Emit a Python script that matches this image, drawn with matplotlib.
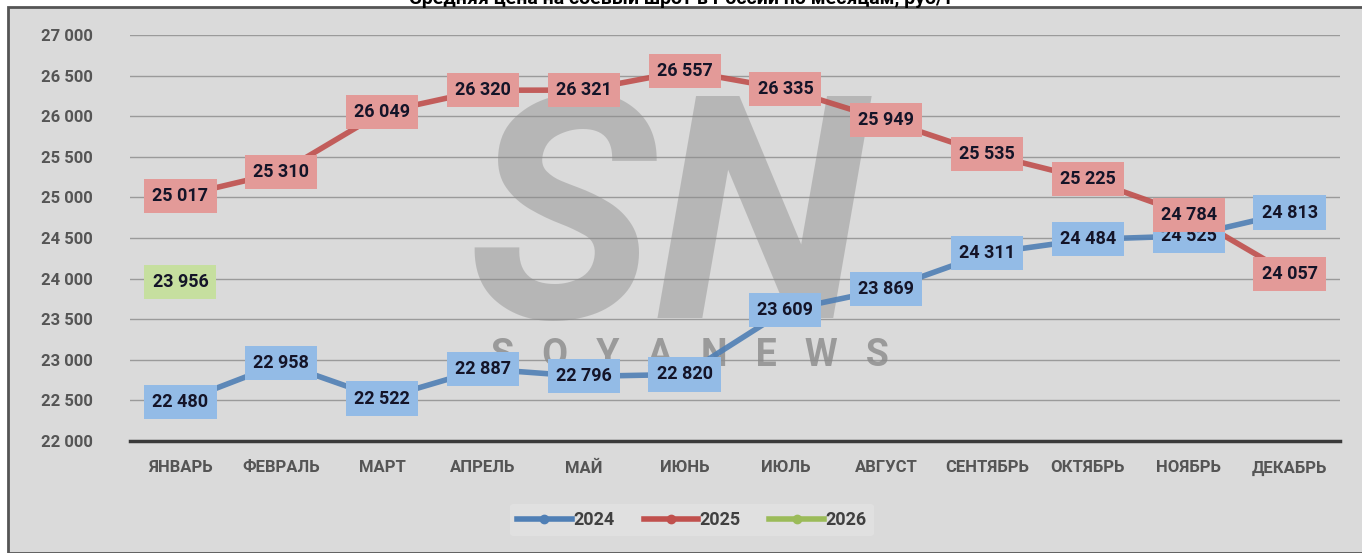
import numpy as np
import matplotlib
matplotlib.use("Agg")
import matplotlib.pyplot as plt
from matplotlib.patches import Rectangle
from matplotlib.lines import Line2D

# data
months = ['ЯНВАРЬ', 'ФЕВРАЛЬ', 'МАРТ', 'АПРЕЛЬ', 'МАЙ', 'ИЮНЬ', 'ИЮЛЬ',
          'АВГУСТ', 'СЕНТЯБРЬ', 'ОКТЯБРЬ', 'НОЯБРЬ', 'ДЕКАБРЬ']
y2024 = [22480, 22958, 22522, 22887, 22796, 22820, 23609, 23869, 24311, 24484, 24525, 24813]
y2025 = [25017, 25310, 26049, 26320, 26321, 26557, 26335, 25949, 25535, 25225, 24784, 24057]
y2026 = [23956]
yticks = [22000, 22500, 23000, 23500, 24000, 24500, 25000, 25500, 26000, 26500, 27000]
title = 'Средняя цена на соевый шрот в России по месяцам, руб/т'

W, H = 1362, 553
fig = plt.figure(figsize=(W/100, H/100), dpi=100, facecolor='white')
plt.rcParams['font.family'] = ['Roboto', 'DejaVu Sans']

# chart frame
bg = '#dadada'
fig.patches.append(Rectangle((8/W, 0), 1, 1 - 7/H, transform=fig.transFigure,
                             facecolor=bg, edgecolor='#555555', linewidth=2, zorder=-5))
fig.text(0.5, 1 - 4/H, title, ha='center', va='baseline', fontsize=14,
         fontweight='bold', color='black')

ax = fig.add_axes([130/W, 1 - 441/H, 1210/W, 406/H])
ax.set_facecolor('none')
x = np.arange(len(months))
ax.set_xlim(-0.5, len(months) - 0.5)
ax.set_ylim(22000, 27000)

for s in ['top', 'right', 'left']:
    ax.spines[s].set_visible(False)
ax.spines['bottom'].set_color('#3a3a3a')
ax.spines['bottom'].set_linewidth(2.5)
ax.set_yticks(yticks)
ax.set_yticklabels([f'{v:,}'.replace(',', ' ') for v in yticks])
ax.set_xticks(x)
ax.set_xticklabels(months)
ax.tick_params(axis='x', length=0, labelsize=12, labelcolor='#555555', pad=14)
ax.tick_params(axis='y', length=0, labelsize=12, labelcolor='#555555', pad=27)
for t in ax.get_xticklabels() + ax.get_yticklabels():
    t.set_fontweight('bold')
ax.grid(axis='y', color='#9a9a9a', linewidth=1, zorder=0)
ax.set_axisbelow(True)

# watermark
ax.text(668/W, 1 - 232/H, 'SN', transform=fig.transFigure, ha='center', va='center',
        fontsize=225, fontstyle='italic', fontweight='bold', color='#8c8c8c',
        alpha=0.45, zorder=1)
ax.text(690/W, 1 - 355/H, 'S   O   Y   A   N   E   W   S', transform=fig.transFigure,
        ha='center', va='center', fontsize=27, fontweight='bold', color='#8a8a8a',
        alpha=0.8, zorder=1)

series = [
    (y2024, '2024', '#4f7fb5', '#93bbe6'),
    (y2025, '2025', '#c0504d', '#e39a98'),
    (y2026, '2026', '#9bbb59', '#c6df9f'),
]
for vals, name, lc, fc in series:
    xs = x[:len(vals)]
    ax.plot(xs, vals, color=lc, linewidth=4, marker='o', markersize=22,
            markerfacecolor=lc, markeredgecolor=lc, zorder=3, alpha=0.9)
    for xi, v in zip(xs, vals):
        ax.text(xi, v, f'{v:,}'.replace(',', ' '), ha='center', va='center',
                fontsize=13, fontweight='bold', color='#141428', zorder=4,
                bbox=dict(boxstyle='square,pad=0.45', facecolor=fc, edgecolor='none'))

handles = [Line2D([0], [0], color=lc, linewidth=4, marker='o', markersize=6)
           for _, _, lc, _ in series]
leg = fig.legend(handles, [s[1] for s in series], loc='center', ncol=3,
                 bbox_to_anchor=(692/W, 1 - 520/H), frameon=True, fontsize=13,
                 handlelength=3.0, handletextpad=0.1, columnspacing=1.6)
leg.get_frame().set_facecolor('#e2e2e2')
leg.get_frame().set_edgecolor('none')
for t in leg.get_texts():
    t.set_color('#404040')
    t.set_fontweight('bold')

fig.savefig('out.png', dpi=100, facecolor='white')
